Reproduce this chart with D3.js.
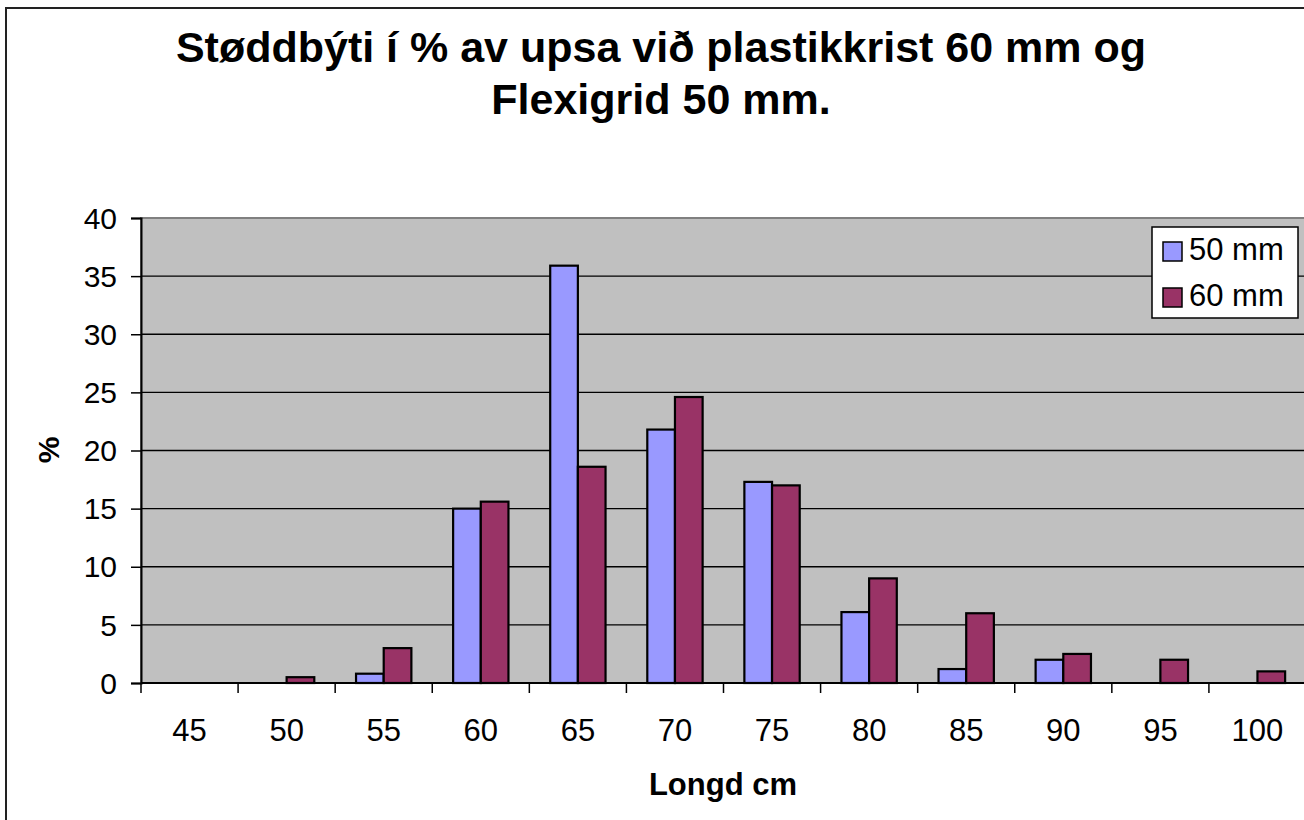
<!DOCTYPE html>
<html>
<head>
<meta charset="utf-8">
<script src="https://cdnjs.cloudflare.com/ajax/libs/d3/7.8.5/d3.min.js"></script>
<style>
  body { margin: 0; background: #fff; }
  text { font-family: "Liberation Sans", Arial, sans-serif; }
</style>
</head>
<body>
<div id="chart"></div>
<script>
var categories = ["45", "50", "55", "60", "65", "70", "75", "80", "85", "90", "95", "100"];
var series = ["50 mm", "60 mm"];
var values50 = [0, 0, 0.8, 15.0, 35.9, 21.8, 17.3, 6.1, 1.2, 2.0, 0, 0];
var values60 = [0, 0.5, 3.0, 15.6, 18.6, 24.6, 17.0, 9.0, 6.0, 2.5, 2.0, 1.0];
var yTicks = [0, 5, 10, 15, 20, 25, 30, 35, 40];
var colors = ["#9999FF", "#993366"];

var W = 1304, H = 820;
var plot = {left: 141, top: 218, right: 1306, bottom: 683};

var data = categories.map(function(c, i) {
  return {cat: c, vals: [values50[i], values60[i]]};
});

var svg = d3.select("#chart").append("svg")
    .attr("width", W)
    .attr("height", H);

// outer chart border
svg.append("rect")
    .attr("x", 6).attr("y", 8)
    .attr("width", 1400).attr("height", 830)
    .attr("fill", "#fff")
    .attr("stroke", "#222")
    .attr("stroke-width", 2);

var x = d3.scaleBand()
    .domain(categories)
    .range([plot.left, plot.right])
    .paddingInner(0.43)
    .paddingOuter(0.215);

var x1 = d3.scaleBand()
    .domain(series)
    .range([0, x.bandwidth()]);

var y = d3.scaleLinear()
    .domain([0, 40])
    .range([plot.bottom, plot.top]);

// plot area
svg.append("rect")
    .attr("x", plot.left).attr("y", plot.top)
    .attr("width", plot.right - plot.left)
    .attr("height", plot.bottom - plot.top)
    .attr("fill", "#C0C0C0")
    .attr("stroke", "#808080")
    .attr("stroke-width", 2);

// gridlines
svg.selectAll(".grid")
    .data(yTicks.filter(function(d) { return d > 0 && d < 40; }))
    .enter().append("line")
    .attr("class", "grid")
    .attr("x1", plot.left).attr("x2", plot.right)
    .attr("y1", function(d) { return y(d); })
    .attr("y2", function(d) { return y(d); })
    .attr("stroke", "#000")
    .attr("stroke-width", 1.3);

// bars
var g = svg.selectAll(".cat")
    .data(data)
    .enter().append("g")
    .attr("class", "cat")
    .attr("transform", function(d) { return "translate(" + x(d.cat) + ",0)"; });

g.selectAll("rect")
    .data(function(d) { return d.vals.map(function(v, i) { return {s: series[i], v: v, i: i}; }); })
    .enter().filter(function(d) { return d.v > 0; })
    .append("rect")
    .attr("x", function(d) { return x1(d.s); })
    .attr("y", function(d) { return y(d.v); })
    .attr("width", x1.bandwidth())
    .attr("height", function(d) { return y(0) - y(d.v); })
    .attr("fill", function(d) { return colors[d.i]; })
    .attr("stroke", "#000")
    .attr("stroke-width", 2.2);

// y axis
var yAxis = svg.append("g")
    .attr("transform", "translate(" + plot.left + ",0)")
    .call(d3.axisLeft(y).tickValues(yTicks).tickSize(10).tickPadding(14));
yAxis.select(".domain").attr("stroke", "#000").attr("stroke-width", 2);
yAxis.selectAll(".tick line").attr("stroke", "#000").attr("stroke-width", 1.5);
yAxis.selectAll("text")
    .style("font-size", "30px")
    .attr("fill", "#000")
    .attr("dy", "0.34em");

// x axis line and boundary ticks
var step = x.step();
var bounds = categories.map(function(c) { return x(c) - step * x.paddingInner() / 2; });
bounds.push(plot.right);
svg.append("line")
    .attr("x1", plot.left).attr("x2", plot.right)
    .attr("y1", plot.bottom).attr("y2", plot.bottom)
    .attr("stroke", "#000").attr("stroke-width", 2);
svg.selectAll(".xtick")
    .data(bounds)
    .enter().append("line")
    .attr("class", "xtick")
    .attr("x1", function(d) { return d; }).attr("x2", function(d) { return d; })
    .attr("y1", plot.bottom).attr("y2", plot.bottom + 10)
    .attr("stroke", "#000").attr("stroke-width", 1.5);

var xAxis = svg.append("g")
    .attr("transform", "translate(0," + plot.bottom + ")")
    .call(d3.axisBottom(x).tickSize(0).tickPadding(0));
xAxis.select(".domain").remove();
xAxis.selectAll("text")
    .style("font-size", "31px")
    .attr("fill", "#000")
    .attr("dy", null)
    .attr("y", 58);
xAxis.selectAll(".tick").attr("transform", function(d) {
  return "translate(" + (x(d) + x.bandwidth() / 2) + ",0)";
});

// titles
var title = svg.append("text")
    .attr("text-anchor", "middle")
    .style("font-size", "43px")
    .style("font-weight", "bold");
title.append("tspan").attr("x", 661).attr("y", 62).text("Støddbýti í % av upsa við plastikkrist 60 mm og");
title.append("tspan").attr("x", 661).attr("y", 114).text("Flexigrid 50 mm.");

svg.append("text")
    .attr("x", 723).attr("y", 795)
    .attr("text-anchor", "middle")
    .style("font-size", "31px")
    .style("font-weight", "bold")
    .text("Longd cm");

svg.append("text")
    .attr("transform", "translate(59,450) rotate(-90)")
    .attr("text-anchor", "middle")
    .style("font-size", "30px")
    .style("font-weight", "bold")
    .text("%");

// legend
var legend = svg.append("g").attr("transform", "translate(1152,227)");
legend.append("rect")
    .attr("width", 146).attr("height", 91)
    .attr("fill", "#fff")
    .attr("stroke", "#000")
    .attr("stroke-width", 1.5);
var li = legend.selectAll(".li")
    .data(series)
    .enter().append("g")
    .attr("class", "li")
    .attr("transform", function(d, i) { return "translate(0," + (i * 46) + ")"; });
li.append("rect")
    .attr("x", 11).attr("y", 15)
    .attr("width", 19).attr("height", 19)
    .attr("fill", function(d, i) { return colors[i]; })
    .attr("stroke", "#000")
    .attr("stroke-width", 1.5);
li.append("text")
    .attr("x", 37).attr("y", 33)
    .style("font-size", "31px")
    .text(function(d) { return d; });
</script>
</body>
</html>
